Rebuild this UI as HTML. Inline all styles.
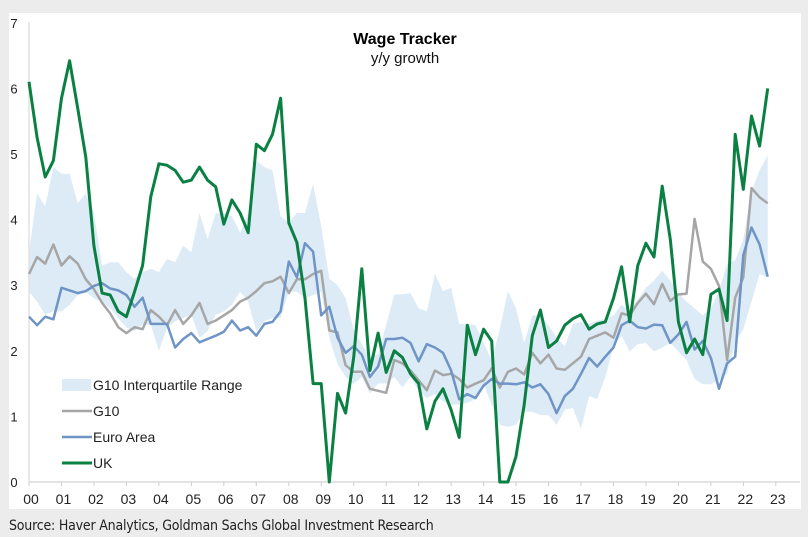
<!DOCTYPE html>
<html><head><meta charset="utf-8"><style>
body{margin:0;width:808px;height:537px;background:#ececec;font-family:"Liberation Sans",sans-serif;overflow:hidden;position:relative}
#panel{position:absolute;left:9px;top:13px;width:792px;height:496px;background:#fff}
#src{position:absolute;left:9px;top:518px;font-size:14px;color:#222;font-family:"DejaVu Sans Condensed","Liberation Sans Narrow","Liberation Sans",sans-serif;letter-spacing:-0.2px}
svg{position:absolute;left:0;top:0}
</style></head><body>
<div id="panel"></div>
<svg id="chart" width="808" height="537"></svg>
<div id="src">Source: Haver Analytics, Goldman Sachs Global Investment Research</div>
<script>
const startYear = 2000;
const yearLabels = ["00","01","02","03","04","05","06","07","08","09","10","11","12","13","14","15","16","17","18","19","20","21","22","23"];
const yTicks = [0,1,2,3,4,5,6,7];
const ukValues = [6.1,5.25,4.65,4.9, 5.85,6.42,5.7,4.95, 3.6,2.88,2.85,2.6, 2.52,2.9,3.3,4.35, 4.85,4.83,4.75,4.57, 4.6,4.8,4.6,4.5, 3.93,4.3,4.1,3.8, 5.15,5.05,5.3,5.85, 3.95,3.65,2.8,1.5, 1.5,0.0,1.35,1.05, 1.9,3.25,1.7,2.27, 1.67,2.0,1.9,1.65, 1.5,0.81,1.23,1.42, 1.1,0.68,2.39,1.94, 2.33,2.15,0.0,0.0, 0.39,1.18,2.23,2.62, 2.05,2.15,2.39,2.49, 2.55,2.33,2.41,2.44, 2.8,3.28,2.44,3.3, 3.64,3.43,4.51,3.7, 2.44,1.97,2.18,1.94, 2.86,2.94,2.46,5.3, 4.46,5.58,5.12,6.0];
const g10Values = [3.17,3.43,3.33,3.62, 3.3,3.44,3.33,3.09, 2.94,2.73,2.57,2.36, 2.27,2.36,2.33,2.62, 2.52,2.39,2.62,2.41, 2.54,2.73,2.41,2.46, 2.54,2.62,2.75,2.81, 2.91,3.03,3.06,3.13, 2.88,3.09,3.09,3.17, 3.22,2.31,2.28,1.78, 1.68,1.68,1.42,1.39, 1.36,1.86,1.81,1.7, 1.55,1.4,1.7,1.63, 1.65,1.57,1.44,1.5, 1.55,1.73,1.44,1.68, 1.73,1.64,1.97,1.81, 1.94,1.73,1.71,1.81, 1.91,2.18,2.23,2.28, 2.2,2.57,2.54,2.73, 2.87,2.71,3.02,2.76, 2.86,2.87,4.01,3.36, 3.25,2.99,1.86,2.81, 3.12,4.48,4.34,4.25];
const euroValues = [2.52,2.39,2.52,2.48, 2.96,2.92,2.88,2.91, 2.99,3.03,2.95,2.92, 2.85,2.67,2.81,2.41, 2.41,2.41,2.05,2.18, 2.27,2.13,2.18,2.23, 2.29,2.46,2.31,2.36, 2.23,2.41,2.44,2.6, 3.36,3.12,3.64,3.51, 2.54,2.67,2.2,1.97, 2.07,1.94,1.6,1.76, 2.18,2.18,2.2,2.12, 1.84,2.1,2.05,1.97, 1.7,1.26,1.34,1.28, 1.47,1.57,1.5,1.5, 1.49,1.52,1.44,1.49, 1.34,1.05,1.31,1.42, 1.65,1.89,1.76,1.91, 2.05,2.39,2.46,2.36, 2.34,2.4,2.39,2.12, 2.25,2.44,2.02,2.15, 1.89,1.42,1.81,1.91, 3.46,3.88,3.62,3.13];
const iqrUpper = [3.5,4.4,4.2,4.8, 4.7,4.7,4.25,4.4, 4.1,3.3,3.35,3.35, 3.2,3.1,3.2,3.25, 3.2,3.4,3.35,3.6, 3.5,4.1,3.7,4.1, 4.1,4.05,3.8,4.1, 4.9,4.8,4.75,4.05, 3.95,4.1,4.1,4.55, 3.9,3.1,3.0,2.8, 2.33,2.1,1.9,1.95, 2.4,2.86,2.86,2.88, 2.65,2.6,3.17,2.91, 2.96,2.41,2.41,2.39, 2.12,1.86,2.33,2.91, 2.65,2.12,2.54,2.54, 2.39,2.2,2.07,2.41, 2.44,2.41,2.46,2.49, 2.54,2.7,2.62,2.78, 2.96,3.07,3.22,3.07, 2.88,2.75,2.65,2.54, 2.65,2.91,3.33,3.38, 3.7,4.43,4.75,4.98];
const iqrLower = [2.9,2.75,2.55,2.6, 2.6,2.7,2.85,2.9, 2.8,2.75,2.65,2.5, 2.35,2.3,2.4,2.4, 2.0,2.35,2.45,2.5, 2.55,2.2,2.3,2.55, 2.6,2.7,2.9,2.75, 2.3,2.45,2.5,2.5, 2.9,2.9,2.8,2.85, 2.9,2.2,1.8,1.6, 1.5,1.6,1.35,1.5, 1.5,1.6,1.44,1.6, 1.39,1.28,1.34,1.23, 1.18,1.18,1.21,1.26, 1.49,1.18,0.87,0.84, 0.87,1.07,1.07,1.02, 1.02,0.87,1.1,1.13, 0.81,1.31,1.26,1.6, 2.07,2.23,1.99,2.1, 2.12,1.99,2.05,2.12, 1.99,1.86,1.57,1.49, 1.49,1.55,1.65,2.12, 2.33,2.75,3.17,3.12];

const NS="http://www.w3.org/2000/svg";
const svg=document.getElementById('chart');
const X0=29, YW=32.47, Y0=482, YU=65.6;
function xq(i){return X0+YW*(i/4);}
function xy(t){return X0+YW*t;}
function yv(v){return Y0-YU*v;}
function mk(tag,attrs){const e=document.createElementNS(NS,tag);for(const k in attrs)e.setAttribute(k,attrs[k]);svg.appendChild(e);return e;}

// band
let d="M"+iqrUpper.map((v,i)=>xq(i).toFixed(1)+","+yv(v).toFixed(1)).join(" L");
for(let i=iqrLower.length-1;i>=0;i--) d+=" L"+xq(i).toFixed(1)+","+yv(iqrLower[i]).toFixed(1);
const band=mk('path',{d:d+"Z",fill:"#ddebf7"});



// axes
const ax=mk('line',{x1:X0,y1:22,x2:X0,y2:Y0,stroke:"#e2e2e2","stroke-width":1.5});


const bx=mk('line',{x1:X0,y1:Y0,x2:800,y2:Y0,stroke:"#dcdcdc","stroke-width":1.5});


yTicks.forEach(v=>{
  const t=mk('text',{x:14,y:yv(v)+5,"font-size":13,fill:"#222","text-anchor":"middle"});
  t.textContent=v;
  
  
});
yearLabels.forEach((l,i)=>{
  const tk=mk('line',{x1:xy(i),y1:Y0,x2:xy(i),y2:Y0+4,stroke:"#ccc","stroke-width":1});
  
  
  const t=mk('text',{x:xy(i)+2,y:504,"font-size":14,fill:"#222","text-anchor":"middle"});
  t.textContent=l;
  
  
});

function line(vals,color,w,name){
  const p=mk('polyline',{points:vals.map((v,i)=>xq(i).toFixed(1)+","+yv(v).toFixed(1)).join(" "),fill:"none",stroke:color,"stroke-width":w,"stroke-linejoin":"round"});
  
  
}
line(g10Values,"#a6a6a6",2.5,'g10-line');
line(euroValues,"#6f94c6",2.5,'euro-area-line');
line(ukValues,"#0b8043",3,'uk-line');

// title
const t1=mk('text',{x:405,y:44,"font-size":16,"font-weight":"bold","text-anchor":"middle",fill:"#000"});
t1.textContent="Wage Tracker";


const t2=mk('text',{x:405,y:63,"font-size":15,"text-anchor":"middle",fill:"#111"});
t2.textContent="y/y growth";



// legend
const legendItems=[["G10 Interquartile Range","band"],["G10","#a6a6a6"],["Euro Area","#6f94c6"],["UK","#0b8043"]];
legendItems.forEach((it,i)=>{
  const cy=385+i*26;
  let s;
  if(it[1]==="band") s=mk('rect',{x:62,y:cy-6,width:29,height:12,fill:"#ddebf7"});
  else s=mk('line',{x1:62,y1:cy,x2:92,y2:cy,stroke:it[1],"stroke-width":i===3?3:2.5});
  
  
  const t=mk('text',{x:93,y:cy+5,"font-size":14,fill:"#222"});
  t.textContent=it[0];
  
  
});
</script>
</body></html>
